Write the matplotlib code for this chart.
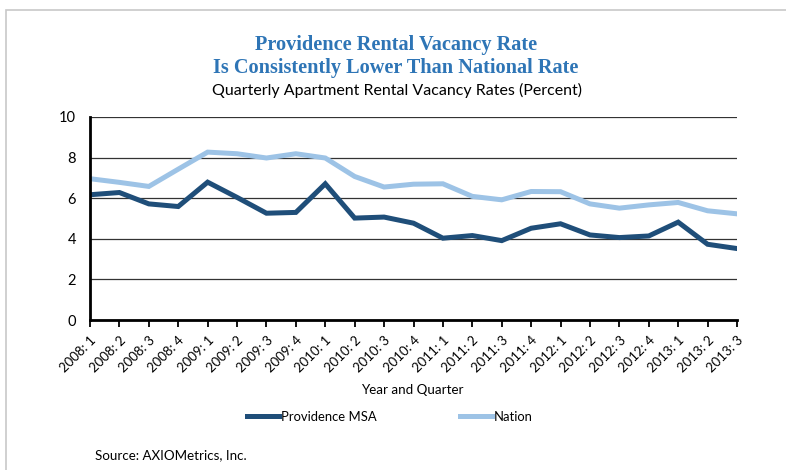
import matplotlib.pyplot as plt
from matplotlib.patches import Rectangle

# quarterly rental vacancy rates (percent)
quarters = [
    "2008: 1", "2008: 2", "2008: 3", "2008: 4",
    "2009: 1", "2009: 2", "2009: 3", "2009: 4",
    "2010: 1", "2010: 2", "2010: 3", "2010: 4",
    "2011: 1", "2011: 2", "2011: 3", "2011: 4",
    "2012: 1", "2012: 2", "2012: 3", "2012: 4",
    "2013: 1", "2013: 2", "2013: 3",
]
providence = [6.17, 6.28, 5.72, 5.59, 6.79, 6.04, 5.26, 5.30, 6.71, 5.02, 5.07, 4.77,
              4.03, 4.16, 3.91, 4.52, 4.74, 4.19, 4.06, 4.14, 4.82, 3.73, 3.52]
nation = [6.96, 6.78, 6.58, 7.43, 8.27, 8.19, 7.98, 8.19, 7.98, 7.07, 6.55, 6.69,
          6.71, 6.09, 5.92, 6.33, 6.32, 5.72, 5.51, 5.67, 5.79, 5.38, 5.23]

DARK = "#1f4e79"
LIGHT = "#9dc3e6"
TITLE_BLUE = "#2e75b6"
SANS = "Lato"


def main():
    fig = plt.figure(figsize=(7.86, 4.70), dpi=100)
    W, H = 786, 470

    # light gray frame around the chart area
    fig.patches.append(Rectangle((6 / W, -0.1), 1.2, 1 - 10 / H + 0.1,
                                 transform=fig.transFigure, fill=False,
                                 edgecolor="#c8c8c8", linewidth=1.2))

    ax = fig.add_axes([90 / W, 1 - 320 / H, (737 - 90) / W, (320 - 117) / H])
    x = list(range(len(quarters)))
    ax.plot(x, nation, color=LIGHT, linewidth=3.6, label="Nation", zorder=3,
            solid_joinstyle="miter")
    ax.plot(x, providence, color=DARK, linewidth=3.6, label="Providence MSA", zorder=4,
            solid_joinstyle="miter")

    ax.set_xlim(0, len(quarters) - 1)
    ax.set_ylim(0, 10)
    ax.set_yticks([0, 2, 4, 6, 8, 10])
    ax.set_xticks(x)
    ax.set_xticklabels(quarters, rotation=45, ha="right", rotation_mode="anchor",
                       fontsize=9.5, family=SANS)
    for lbl in ax.get_yticklabels():
        lbl.set_family(SANS)
        lbl.set_fontsize(10.5)
    ax.tick_params(axis="y", length=0, pad=10)
    ax.tick_params(axis="x", length=5, width=1.3, direction="out", pad=5)

    ax.grid(axis="y", color="#333333", linewidth=0.9)
    ax.set_axisbelow(True)
    for side in ["top", "right"]:
        ax.spines[side].set_visible(False)
    for side in ["left", "bottom"]:
        ax.spines[side].set_linewidth(2)
        ax.spines[side].set_color("black")
        ax.spines[side].set_zorder(5)

    # titles
    fig.text(396 / W, 1 - 45 / H, "Providence Rental Vacancy Rate", ha="center", va="center",
             fontsize=14.6, fontweight="bold", family="Liberation Serif", color=TITLE_BLUE)
    fig.text(396 / W, 1 - 68 / H, "Is Consistently Lower Than National Rate", ha="center",
             va="center", fontsize=14.6, fontweight="bold", family="Liberation Serif",
             color=TITLE_BLUE)
    fig.text(397 / W, 1 - 90 / H, "Quarterly Apartment Rental Vacancy Rates (Percent)",
             ha="center", va="center", fontsize=11.5, family=SANS)

    fig.text(412 / W, 1 - 390 / H, "Year and Quarter", ha="center", va="center",
             fontsize=9.6, family=SANS)

    handles, labels = ax.get_legend_handles_labels()
    fig.legend(handles[::-1], labels[::-1], loc="center", ncol=2,
               bbox_to_anchor=(390 / W, 1 - 417 / H), frameon=False,
               handlelength=2.45, handletextpad=0.15, columnspacing=6.4,
               prop={"family": SANS, "size": 9.4})

    fig.text(95 / W, 1 - 455 / H, "Source: AXIOMetrics, Inc.", ha="left", va="center",
             fontsize=9.6, family=SANS)

    fig.savefig("out.png", dpi=100)
    plt.close(fig)


if __name__ == "__main__":
    main()
